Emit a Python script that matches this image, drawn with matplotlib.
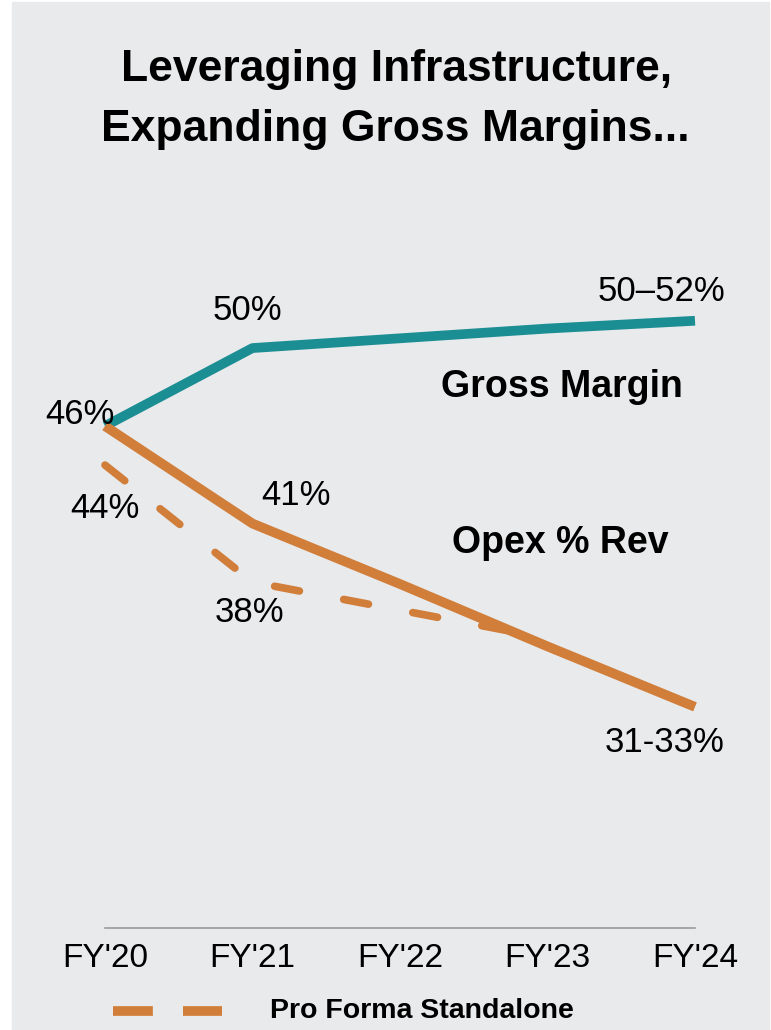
import numpy as np
import matplotlib.pyplot as plt
from matplotlib.lines import Line2D
from matplotlib.patches import Rectangle

years = ["FY'20", "FY'21", "FY'22", "FY'23", "FY'24"]
gross_margin = [46, 50, 50.5, 51, 51.4]
opex_rev = [46, 41, 37.9, 34.7, 31.6]
# pro forma standalone runs until it meets the reported opex line
pro_forma_x = [0, 1, 2.77]
pro_forma = [44, 38, 35.45]

teal = '#1b8e94'
orange = '#d17e3a'
panel = '#e9eaec'

plt.rcParams['font.family'] = ['Liberation Sans', 'DejaVu Sans']

fig = plt.figure(figsize=(7.71, 10.30), dpi=100)
fig.patches.append(Rectangle((12 / 771, 0), 757 / 771, 1028 / 1030,
                             transform=fig.transFigure, color=panel, zorder=-10))

ax = fig.add_axes([105 / 771, 102 / 1030, 590 / 771, 648 / 1030])
ax.set_facecolor('none')
ax.set_xlim(0, 4)
ax.set_ylim(20.26, 53.49)

x = np.arange(len(years))
ax.plot(x, gross_margin, color=teal, lw=7, solid_capstyle='butt', clip_on=False)
ax.plot(x, opex_rev, color=orange, lw=7, solid_capstyle='butt', clip_on=False)
ax.plot(pro_forma_x, pro_forma, color=orange, lw=5.5, dashes=(3.3, 5.9),
        dash_capstyle='round', clip_on=False)

for s in ['top', 'right', 'left']:
    ax.spines[s].set_visible(False)
ax.spines['bottom'].set_color('#9a9a9a')
ax.spines['bottom'].set_linewidth(1.2)
ax.set_yticks([])
ax.set_xticks(x)
ax.set_xticklabels(years, fontsize=24)
ax.tick_params(axis='x', length=0, pad=11)

lbl = dict(fontsize=25, ha='center', va='center')
ax.annotate('46%', (0, gross_margin[0]), xytext=(-18, 8), textcoords='offset points', **lbl)
ax.annotate('50%', (1, gross_margin[1]), xytext=(-4, 27), textcoords='offset points', **lbl)
ax.annotate('50\u201352%', (4, gross_margin[4]), xytext=(-24, 21), textcoords='offset points', **lbl)
ax.annotate('44%', (0, pro_forma[0]), xytext=(0, -31), textcoords='offset points', **lbl)
ax.annotate('41%', (1, opex_rev[1]), xytext=(31, 20), textcoords='offset points', **lbl)
ax.annotate('38%', (1, pro_forma[1]), xytext=(-2, -22), textcoords='offset points', **lbl)
ax.annotate('31-33%', (4, opex_rev[4]), xytext=(-22, -26), textcoords='offset points', **lbl)

ax.text(3.10, 48.0, 'Gross Margin', fontsize=27, fontweight='bold', ha='center', va='center')
ax.text(3.09, 40.0, 'Opex % Rev', fontsize=27, fontweight='bold', ha='center', va='center')

fig.text(397 / 771, 1 - 69 / 1030, 'Leveraging Infrastructure,', fontsize=32,
         fontweight='bold', ha='center', va='center')
fig.text(395 / 771, 1 - 129 / 1030, 'Expanding Gross Margins...', fontsize=32,
         fontweight='bold', ha='center', va='center')

# legend for the dashed series
fig.add_artist(Line2D([113 / 771, 222 / 771], [1 - 1011 / 1030] * 2, color=orange,
                      lw=7, dashes=(4.1, 3.1), dash_capstyle='butt',
                      transform=fig.transFigure))
fig.text(270 / 771, 1 - 1011 / 1030, 'Pro Forma Standalone', fontsize=20.5,
         fontweight='bold', ha='left', va='center')

fig.savefig('out.png', dpi=100, facecolor='white')
